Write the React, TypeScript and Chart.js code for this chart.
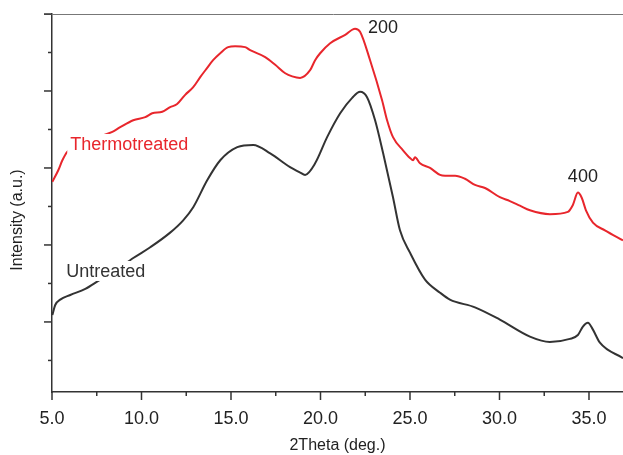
import React, { useEffect, useRef } from "react";
import { Chart, registerables } from "chart.js";

Chart.register(...registerables);

// 2Theta (deg.) values and intensities (a.u.)
const untreatedX = [5.02, 5.18, 5.46, 6.02, 6.86, 7.7, 8.53, 9.54, 10.49, 11.6, 12.33, 12.89, 13.67, 14.4, 15.35, 16.24, 17.19, 18.3, 18.86, 19.14, 19.7, 20.37, 21.1, 21.77, 22.21, 22.6, 23.05, 23.5, 24.05, 24.44, 25.0, 25.84, 26.68, 27.23, 28.63, 30.02, 31.7, 32.81, 33.93, 34.38, 34.66, 34.94, 35.22, 35.61, 36.9];
const untreatedY = [0.09, 0.22, 0.29, 0.35, 0.43, 0.55, 0.66, 0.83, 0.97, 1.16, 1.32, 1.49, 1.84, 2.1, 2.27, 2.3, 2.19, 2.01, 1.94, 1.91, 2.06, 2.4, 2.71, 2.91, 2.99, 2.92, 2.62, 2.19, 1.62, 1.19, 0.9, 0.55, 0.38, 0.29, 0.19, 0.03, -0.19, -0.26, -0.22, -0.17, -0.06, -0.01, -0.1, -0.27, -0.47];

const thermoX = [5.02, 5.35, 5.58, 5.85, 6.58, 7.42, 8.37, 8.81, 9.54, 10.21, 10.6, 11.16, 11.6, 11.99, 12.44, 12.89, 13.28, 13.67, 14.0, 14.4, 14.84, 15.23, 15.79, 16.07, 16.91, 17.47, 18.03, 18.42, 18.86, 19.42, 19.7, 19.98, 20.54, 21.38, 21.93, 22.21, 22.77, 23.44, 23.72, 24.05, 24.61, 25.0, 25.17, 25.28, 25.56, 26.12, 26.68, 26.96, 27.52, 28.07, 28.63, 29.19, 30.02, 30.58, 31.14, 31.7, 32.82, 33.82, 34.1, 34.38, 34.6, 34.83, 35.22, 35.89, 36.9];
const thermoY = [1.82, 1.97, 2.1, 2.21, 2.3, 2.39, 2.47, 2.53, 2.62, 2.66, 2.71, 2.73, 2.79, 2.83, 2.95, 3.05, 3.18, 3.3, 3.4, 3.49, 3.57, 3.58, 3.57, 3.53, 3.44, 3.34, 3.23, 3.19, 3.17, 3.27, 3.4, 3.49, 3.62, 3.73, 3.81, 3.77, 3.4, 2.88, 2.62, 2.4, 2.23, 2.13, 2.1, 2.14, 2.06, 2.0, 1.91, 1.9, 1.9, 1.86, 1.78, 1.74, 1.62, 1.57, 1.51, 1.45, 1.4, 1.43, 1.52, 1.68, 1.61, 1.45, 1.29, 1.19, 1.06];

const seriesNames = ["Untreated", "Thermotreated"];
const seriesColors = ["#333333", "#e8262c"];
const seriesLabelX = [5.8, 6.02];
const seriesLabelY = [0.584, 2.234];

const peakLabels = ["200", "400"];
const peakLabelX = [22.65, 33.82];
const peakLabelY = [3.753, 1.818];

const xMin = 5;
const xMax = 36.9;
const xTickValues = [5, 7.5, 10, 12.5, 15, 17.5, 20, 22.5, 25, 27.5, 30, 32.5, 35];
const yMin = -0.91;
const yMax = 4;
const yTickValues = [-0.5, 0, 0.5, 1, 1.5, 2, 2.5, 3, 3.5, 4];

const xTitle = "2Theta (deg.)";
const yTitle = "Intensity (a.u.)";

const FONT = "'Liberation Sans', Arial, sans-serif";

const isMajor = (v: number, unit: number) => Math.abs(v / unit - Math.round(v / unit)) < 1e-6;

const decorPlugin = {
  id: "decor",
  afterDatasetsDraw(chart: any) {
    const { ctx, chartArea, scales } = chart;
    const xs = scales.x;
    const ys = scales.y;
    ctx.save();
    // top frame line
    ctx.strokeStyle = "#777";
    ctx.lineWidth = 1;
    ctx.beginPath();
    ctx.moveTo(chartArea.left - 8, chartArea.top + 0.5);
    ctx.lineTo(chartArea.right, chartArea.top + 0.5);
    ctx.stroke();

    // tick marks
    ctx.strokeStyle = "#333";
    ctx.lineWidth = 1.5;
    xTickValues.forEach((v) => {
      const px = xs.getPixelForValue(v);
      ctx.beginPath();
      ctx.moveTo(px, chartArea.bottom);
      ctx.lineTo(px, chartArea.bottom + (isMajor(v, 5) ? 8 : 4));
      ctx.stroke();
    });
    yTickValues.forEach((v) => {
      const py = ys.getPixelForValue(v);
      ctx.beginPath();
      ctx.moveTo(chartArea.left, py);
      ctx.lineTo(chartArea.left - (isMajor(v, 1) ? 8 : 4), py);
      ctx.stroke();
    });

    // series labels with white boxes
    ctx.font = `18px ${FONT}`;
    ctx.textBaseline = "alphabetic";
    ctx.textAlign = "left";
    seriesNames.forEach((name, i) => {
      const px = xs.getPixelForValue(seriesLabelX[i]);
      const py = ys.getPixelForValue(seriesLabelY[i]);
      const w = ctx.measureText(name).width;
      ctx.fillStyle = "#ffffff";
      ctx.fillRect(px - 3, py - 16, w + 6, 20);
      ctx.fillStyle = seriesColors[i];
      ctx.fillText(name, px, py);
    });
    // peak labels
    ctx.fillStyle = "#222";
    peakLabels.forEach((t, i) => {
      ctx.fillText(t, xs.getPixelForValue(peakLabelX[i]), ys.getPixelForValue(peakLabelY[i]));
    });

    // y title
    ctx.font = `16px ${FONT}`;
    ctx.fillStyle = "#222";
    ctx.textAlign = "center";
    ctx.textBaseline = "middle";
    ctx.translate(18, 220);
    ctx.rotate(-Math.PI / 2);
    ctx.fillText(yTitle, 0, 0);
    ctx.restore();
  },
};

export default function App() {
  const ref = useRef<HTMLCanvasElement | null>(null);
  useEffect(() => {
    if (!ref.current) return;
    const chart = new Chart(ref.current, {
      type: "line",
      data: {
        datasets: [
          {
            label: seriesNames[0],
            data: untreatedX.map((x, i) => ({ x, y: untreatedY[i] })),
            borderColor: seriesColors[0],
            borderWidth: 2,
            pointRadius: 0,
            cubicInterpolationMode: "monotone",
          },
          {
            label: seriesNames[1],
            data: thermoX.map((x, i) => ({ x, y: thermoY[i] })),
            borderColor: seriesColors[1],
            borderWidth: 2,
            pointRadius: 0,
            cubicInterpolationMode: "monotone",
          },
        ],
      },
      options: {
        animation: false,
        responsive: false,
        maintainAspectRatio: false,
        layout: { padding: { top: 14, left: 0, right: 0, bottom: 0 } },
        plugins: { legend: { display: false }, tooltip: { enabled: false } },
        scales: {
          x: {
            type: "linear",
            min: xMin,
            max: xMax,
            grid: { display: false, drawTicks: false },
            border: { display: true, color: "#333", width: 1.5 },
            ticks: {
              autoSkip: false,
              maxRotation: 0,
              padding: 16,
              color: "#222",
              font: { family: FONT, size: 18 },
              callback: (v: any) => {
                const n = Number(v);
                return isMajor(n, 5) ? n.toFixed(1) : "";
              },
            },
            afterBuildTicks: (s: any) => {
              s.ticks = xTickValues.map((value) => ({ value }));
            },
            title: {
              display: true,
              text: xTitle,
              color: "#222",
              font: { family: FONT, size: 16 },
              padding: { top: 0, bottom: 0 },
            },
            afterFit: (s: any) => {
              s.height = 63;
              s.paddingRight = 0;
              s.paddingLeft = 0;
            },
          },
          y: {
            type: "linear",
            min: yMin,
            max: yMax,
            grid: { display: false, drawTicks: false },
            border: { display: true, color: "#333", width: 1.5 },
            ticks: { display: false },
            afterBuildTicks: (s: any) => {
              s.ticks = yTickValues.map((value) => ({ value }));
            },
            afterFit: (s: any) => {
              s.width = 52;
              s.paddingTop = 0;
              s.paddingBottom = 0;
            },
          },
        },
      },
      plugins: [decorPlugin],
    } as any);
    return () => chart.destroy();
  }, []);
  return (
    <div style={{ position: "fixed", left: 0, top: 0, width: 623, height: 455, background: "#fff" }}>
      <canvas ref={ref} width={623} height={455} style={{ width: 623, height: 455 }} />
    </div>
  );
}
